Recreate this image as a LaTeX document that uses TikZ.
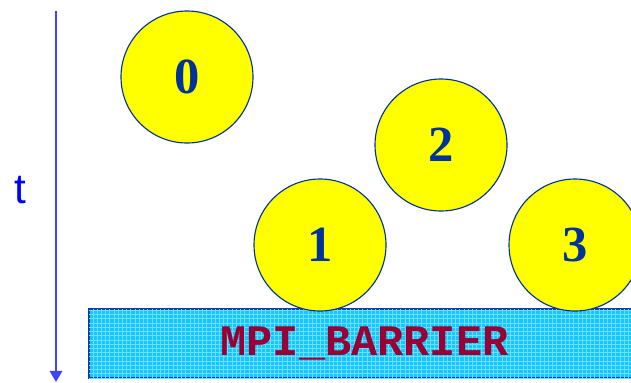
\documentclass[tikz,border=0pt]{standalone}
\usepackage{fontspec}
\setmainfont{Liberation Serif}
\newfontfamily\labelfont{Liberation Sans}
\newfontfamily\codefont{Liberation Mono}
\usetikzlibrary{arrows.meta, patterns}
\definecolor{timeblue}{RGB}{64, 64, 255}
\definecolor{procyellow}{RGB}{255, 255, 0}
\definecolor{procedge}{RGB}{0, 51, 153}
\definecolor{barriercyan}{RGB}{20, 200, 255}
\definecolor{barriergrid}{RGB}{110, 222, 255}
\definecolor{barrieredge}{RGB}{10, 60, 170}
\definecolor{barriertext}{RGB}{153, 0, 51}

\begin{document}
\begin{tikzpicture}[
    proc/.style={circle, draw=procedge, line width=0.8pt, fill=procyellow, minimum size=3.3cm, inner sep=0pt, font=\fontsize{36}{36}\selectfont\bfseries, text=procedge},
    barrier/.style={rectangle, draw=barrieredge, line width=1.3pt, fill=barriercyan, postaction={pattern=grid, pattern color=barriergrid}, minimum width=13.775cm, minimum height=1.725cm, inner sep=0pt, font=\fontsize{31}{31}\selectfont\codefont\bfseries, text=barriertext},
    timearr/.style={-{Triangle[length=8pt, width=9pt]}, line width=1.4pt, timeblue},
]
\clip (0,0) rectangle (15.775,-9.55);

% time axis
\coordinate (ttop) at (1.4,-0.275);
\coordinate (tbot) at (1.4,-9.55);
\draw[timearr] (ttop) -- (tbot);
\node[font=\fontsize{30}{30}\selectfont\labelfont, text=blue] (tlabel) at (0.5,-4.75) {t};

% barrier
\node[barrier] (bar) at (9.1125,-8.5875) {MPI\_BARRIER};

% processes
\node[proc] (p0) at (4.675,-1.925) {0};
\node[proc] (p2) at (11.025,-3.625) {2};
\node[proc] (p1) at (8.0,-6.125) {1};
\node[proc] (p3) at (14.375,-6.125) {3};

\end{tikzpicture}
\end{document}
